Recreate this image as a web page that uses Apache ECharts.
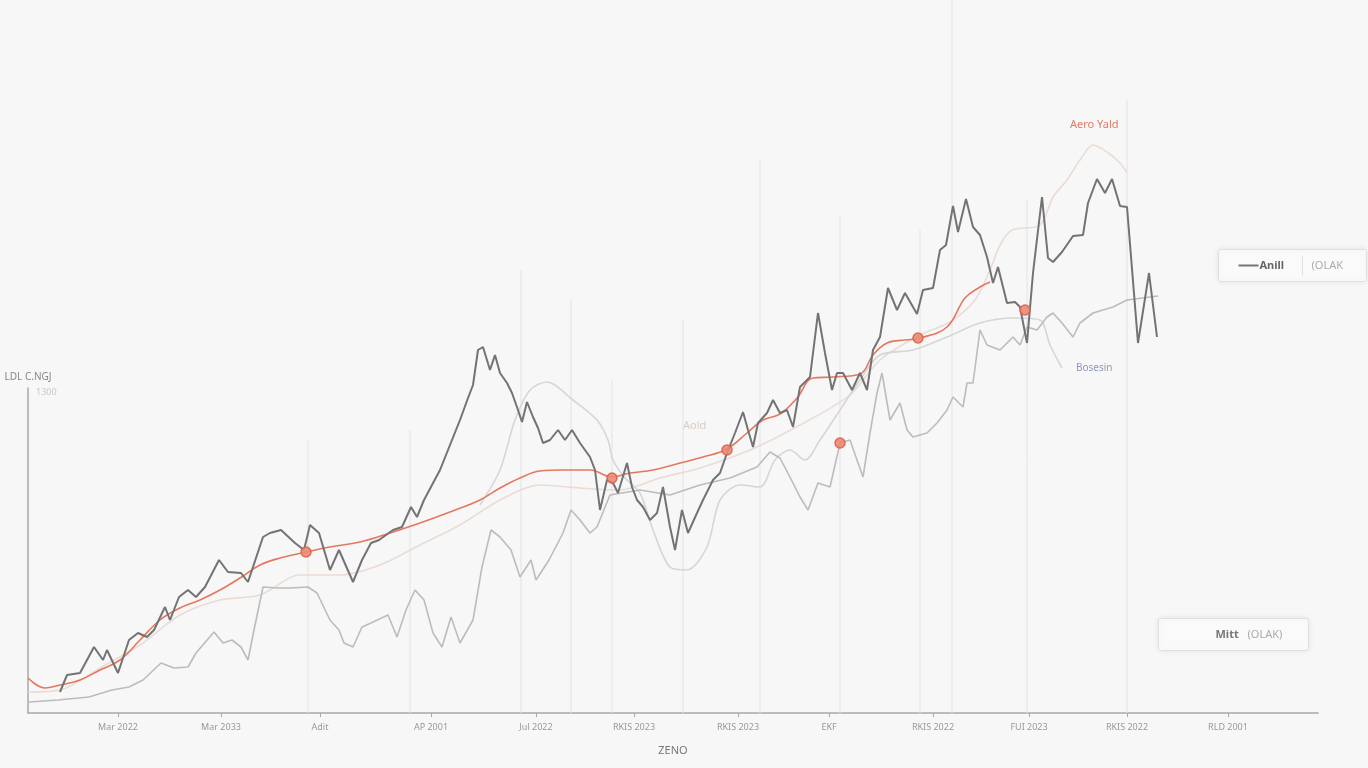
<!DOCTYPE html>
<html>
<head>
<meta charset="utf-8">
<script src="https://cdn.jsdelivr.net/npm/echarts@6/dist/echarts.min.js"></script>
<style>
html,body{margin:0;padding:0;background:#f7f7f7;}
#chart{width:1368px;height:768px;filter:blur(0.5px);}
</style>
</head>
<body>
<div id="chart"></div>
<script>
// ---- tick labels (x = day index) ----
const tickDays   = [90, 193, 292, 403, 508, 606, 710, 801, 905, 1001, 1099, 1200];
const tickLabels = ['Mar 2022','Mar 2033','Adit','AP 2001','Jul 2022','RKIS 2023','RKIS 2023','EKF','RKIS 2022','FUI 2023','RKIS 2022','RLD 2001'];

// ---- Anill (dark jagged series) ----
const anillDays = [32,39,52,66,75,79,90,101,110,119,126,137,142,151,160,168,177,191,200,213,220,235,242,253,267,276,282,291,302,311,325,334,343,351,365,374,383,389,396,404,412,422,432,440,445,450,455,462,467,472,479,484,490,494,499,505,510,515,522,530,537,544,552,562,567,572,579,585,590,599,604,609,615,622,629,635,642,647,654,660,669,675,685,692,699,707,715,720,725,730,739,745,752,759,765,772,782,790,797,804,809,815,824,832,839,845,852,860,869,877,889,895,905,912,918,925,930,938,945,952,959,965,970,979,987,992,999,1005,1014,1020,1025,1034,1045,1055,1060,1069,1077,1084,1092,1099,1110,1121,1129];
const anillVals = [84,152,160,264,212,252,160,292,320,304,332,424,372,464,492,464,504,612,564,560,524,704,720,732,680,652,752,720,572,652,524,612,680,692,732,744,824,784,852,912,972,1072,1172,1260,1312,1452,1464,1372,1432,1360,1320,1280,1212,1164,1244,1184,1140,1080,1092,1132,1092,1132,1080,1024,972,812,932,920,880,1000,904,852,824,772,800,904,744,652,812,720,800,852,932,960,1040,1120,1204,1132,1064,1160,1200,1252,1200,1212,1144,1304,1344,1600,1440,1292,1360,1360,1292,1360,1292,1452,1504,1700,1612,1680,1596,1692,1700,1852,1872,2028,1924,2056,1944,1912,1824,1720,1784,1640,1644,1624,1480,1760,2064,1820,1804,1844,1908,1912,2040,2136,2080,2136,2028,2024,1480,1760,1504];

// ---- trend (red) ----
const trendDays = [0,17,32,52,72,92,112,132,152,172,192,212,232,252,278,302,332,362,392,422,452,472,492,512,535,562,584,602,625,652,675,699,719,735,752,769,785,805,832,845,859,877,892,919,937,952,962];
const trendVals = [140,100,112,132,172,212,292,372,420,452,492,540,592,620,644,664,684,720,760,804,852,900,940,968,972,972,944,960,972,1000,1024,1056,1120,1172,1196,1260,1340,1344,1356,1432,1480,1492,1500,1544,1660,1704,1724];

// ---- event markers ----
const eventDays = [278, 584, 699, 812, 890, 997];
const eventVals = [644, 940, 1052, 1080, 1500, 1612];

// ---- Mitt (light jagged) ----
const mittDays = [1,30,61,84,101,115,133,146,160,168,186,195,204,213,220,226,235,249,262,280,289,302,311,316,325,334,343,360,369,378,387,396,405,414,423,432,445,454,463,472,483,492,503,508,521,535,543,552,562,569,582,612,642,672,702,729,742,752,765,772,780,790,802,812,822,829,835,842,849,854,862,872,879,885,899,909,919,925,935,939,945,952,959,972,985,992,999,1009,1019,1025,1034,1045,1052,1065,1085,1099,1130];
const mittVals = [44,52,64,92,104,132,200,180,184,240,324,280,292,264,212,332,504,500,500,504,480,372,332,280,264,344,360,392,304,412,492,452,320,264,384,280,372,584,732,704,652,544,612,532,612,720,812,772,720,744,872,892,872,912,940,984,1044,1020,920,864,812,920,904,1080,1092,1012,944,1120,1280,1360,1172,1240,1132,1104,1120,1160,1212,1264,1224,1320,1320,1532,1472,1452,1504,1472,1544,1532,1584,1600,1560,1504,1560,1600,1624,1652,1668];

// ---- Bosesin (light smooth envelope) ----
const bosDays = [452,472,487,502,519,545,569,580,585,597,612,625,642,659,679,692,712,732,747,762,777,792,812,832,852,885,919,952,985,1012,1022,1034];
const bosVals = [832,972,1172,1292,1324,1252,1172,1092,1012,940,880,732,584,572,664,852,912,904,1012,1052,1012,1092,1212,1332,1432,1452,1504,1560,1580,1572,1472,1380];

// ---- Aero Yald (beige) ----
const aeroDays = [0,32,72,112,152,192,232,272,312,352,392,432,472,512,552,592,632,672,722,772,822,852,892,922,947,962,972,984,1012,1025,1039,1052,1065,1079,1092,1099];
const aeroVals = [84,92,180,272,392,452,472,552,552,592,672,752,852,912,900,892,940,980,1052,1152,1272,1412,1512,1564,1652,1772,1872,1932,1952,2064,2132,2212,2272,2244,2200,2160];

// ---- faint vertical reference lines: day and top value ----
const refDays = [280, 382, 493, 543, 584, 655, 732, 812, 892, 924, 999, 1099];
const refTops = [1092, 1132, 1772, 1652, 1332, 1572, 2212, 1992, 1932, 2852, 2052, 2452];

const zip = (a, b) => a.map((d, i) => [d, b[i]]);
const refData = [];
refDays.forEach((d, i) => { refData.push([d, 0], [d, refTops[i]], [d, null]); });
const labelOf = {};
tickDays.forEach((d, i) => { labelOf[d] = tickLabels[i]; });

const FONT = "'Noto Sans', 'DejaVu Sans', sans-serif";
const chart = echarts.init(document.getElementById('chart'), null, {renderer: 'canvas'});

const option = {
  backgroundColor: '#f7f7f7',
  animation: false,
  textStyle: {fontFamily: FONT},
  grid: {left: 28, right: 50, top: 388, bottom: 55, containLabel: false},
  xAxis: {
    type: 'value', min: 0, max: 1290,
    name: 'ZENO', nameLocation: 'middle', nameGap: 32,
    nameTextStyle: {color: '#777', fontSize: 11, fontFamily: FONT},
    axisLine: {show: true, lineStyle: {color: '#a8a8a8', width: 1.5}},
    axisTick: {show: true, customValues: tickDays, length: 4, lineStyle: {color: '#a8a8a8'}},
    axisLabel: {show: true, customValues: tickDays, margin: 10, color: '#999', fontSize: 9,
      formatter: v => labelOf[v] || ''},
    splitLine: {show: false}
  },
  yAxis: {
    type: 'value', min: 0, max: 1300, interval: 1300,
    name: 'LDL C.NGJ', nameLocation: 'end', nameGap: 6,
    nameTextStyle: {color: '#888', fontSize: 10, align: 'center', fontFamily: FONT},
    axisLine: {show: true, lineStyle: {color: '#a8a8a8', width: 1.5}},
    axisTick: {show: false},
    axisLabel: {show: true, inside: true, showMinLabel: false, color: '#c8c8c8', fontSize: 9, verticalAlign: 'top', margin: 8,
      formatter: v => String(v)},
    splitLine: {show: false}
  },
  series: [
    {
      name: 'refs', type: 'line', data: refData, symbol: 'none', silent: true, clip: false,
      connectNulls: false,
      lineStyle: {color: '#e3e3e3', width: 1}, z: 1
    },
    {
      name: 'Aero Yald', type: 'line', data: zip(aeroDays, aeroVals), symbol: 'none', smooth: 0.3, clip: false,
      lineStyle: {color: '#eadcd4', width: 1.6}, z: 2
    },
    {
      name: 'Bosesin', type: 'line', data: zip(bosDays, bosVals), symbol: 'none', smooth: 0.3, clip: false,
      lineStyle: {color: '#d6d6d6', width: 1.6}, z: 3,
      endLabel: {show: true, formatter: 'Bosesin', color: '#9196c4', fontSize: 10, distance: 14, fontFamily: FONT}
    },
    {
      name: 'Mitt', type: 'line', data: zip(mittDays, mittVals), symbol: 'none', clip: false,
      lineStyle: {color: '#bcbcbc', width: 1.6}, z: 4
    },
    {
      name: 'Trend', type: 'line', data: zip(trendDays, trendVals), symbol: 'none', smooth: 0.4, clip: false,
      lineStyle: {color: '#e5775f', width: 1.6}, z: 5
    },
    {
      name: 'Anill', type: 'line', data: zip(anillDays, anillVals), symbol: 'none', clip: false,
      lineStyle: {color: '#737373', width: 2}, z: 6
    },
    {
      name: 'Events', type: 'scatter', data: zip(eventDays, eventVals), clip: false,
      symbol: 'circle', symbolSize: 10,
      itemStyle: {color: '#ea8a74', borderColor: '#d9634a', borderWidth: 1.5, opacity: 0.9}, z: 7
    }
  ],
  graphic: [
    {type: 'text', left: 1070, top: 119, style: {text: 'Aero Yald', fill: '#e07a66', fontSize: 11, fontFamily: FONT}},
    {type: 'text', left: 683, top: 420, style: {text: 'Aold', fill: '#dccbc0', fontSize: 11, fontFamily: FONT}},
    {type: 'group', left: 1218, top: 249, children: [
      {type: 'rect', shape: {x: 0, y: 0, width: 148, height: 32, r: 2},
       style: {fill: '#fafafa', stroke: '#e0e0e0', lineWidth: 1, shadowBlur: 6, shadowColor: 'rgba(0,0,0,0.08)'}},
      {type: 'line', shape: {x1: 20, y1: 16, x2: 40, y2: 16}, style: {stroke: '#777', lineWidth: 2}},
      {type: 'text', x: 41, y: 16, style: {text: 'Anill', fill: '#666', fontSize: 11, fontWeight: 'bold', verticalAlign: 'middle', fontFamily: FONT}},
      {type: 'line', shape: {x1: 84, y1: 6, x2: 84, y2: 26}, style: {stroke: '#e2e2e2', lineWidth: 1}},
      {type: 'text', x: 93, y: 16, style: {text: '(OLAK', fill: '#aaa', fontSize: 11, verticalAlign: 'middle', fontFamily: FONT}}
    ]},
    {type: 'group', left: 1158, top: 618, children: [
      {type: 'rect', shape: {x: 0, y: 0, width: 150, height: 32, r: 2},
       style: {fill: '#fafafa', stroke: '#e0e0e0', lineWidth: 1, shadowBlur: 6, shadowColor: 'rgba(0,0,0,0.08)'}},
      {type: 'text', x: 57, y: 16, style: {text: 'Mitt', fill: '#777', fontSize: 11, fontWeight: 'bold', verticalAlign: 'middle', fontFamily: FONT}},
      {type: 'text', x: 89, y: 16, style: {text: '(OLAK)', fill: '#aaa', fontSize: 11, verticalAlign: 'middle', fontFamily: FONT}}
    ]}
  ]
};
chart.setOption(option);
</script>
</body>
</html>
